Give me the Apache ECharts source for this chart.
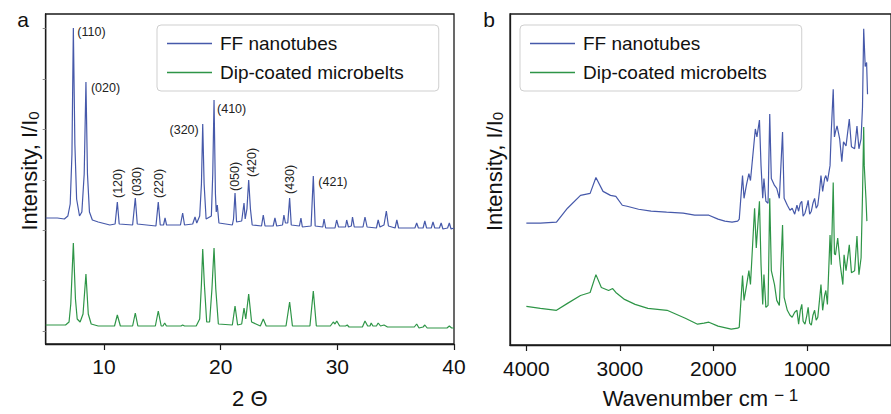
<!DOCTYPE html>
<html><head><meta charset="utf-8">
<script src="https://cdn.jsdelivr.net/npm/echarts@6/dist/echarts.min.js"></script>
<style>html,body{margin:0;padding:0;background:#fff}#c{width:891px;height:414px}</style>
</head><body><div id="c"></div>
<script>
const seriesNames = ['FF nanotubes', 'Dip-coated microbelts'];
const xrdTicks = [10, 20, 30, 40];
const ftirTicks = [1000, 2000, 3000, 4000];
const xrdYTicks = [13, 64, 114, 164, 215, 265, 316];

// XRD, FF nanotubes: [2theta, intensity]
const xrdNano = [[5.0,126],[6.0,126],[6.6,125],[6.9,128],[7.1,140],[7.25,190],[7.37,316],[7.5,200],[7.65,145],[7.9,128],[8.1,132],[8.3,170],[8.45,262],[8.58,170],[8.75,132],[9.0,124],[9.5,122],[10.5,119],[10.95,120],[11.14,142],[11.3,120],[12.45,119],[12.68,146],[12.85,120],[14.45,118],[14.65,142],[14.82,119],[15.1,119],[15.23,126],[15.36,119],[16.55,119],[16.74,131],[16.9,119],[17.6,120],[17.8,127],[17.95,121],[18.2,128],[18.35,160],[18.46,220],[18.58,160],[18.75,125],[19.2,128],[19.32,170],[19.43,244],[19.55,150],[19.62,132],[19.71,139],[19.85,121],[21.0,119],[21.1,125],[21.23,151],[21.36,122],[21.8,123],[22.0,141],[22.1,125],[22.25,135],[22.4,164],[22.55,135],[22.7,119],[23.5,118],[23.65,129],[23.8,118],[24.5,118],[24.65,126],[24.8,118],[25.3,119],[25.42,129],[25.55,121],[25.75,121],[25.91,146],[26.05,119],[26.75,118],[26.88,126],[27.0,117],[27.75,118],[27.94,168],[28.1,118],[28.75,117],[28.86,125],[29.0,116],[29.8,116],[29.94,124],[30.1,117],[30.7,117],[30.8,124],[30.95,117],[31.2,118],[31.3,127],[31.45,117],[32.2,117],[32.37,127],[32.55,117],[33.35,116],[33.5,124],[33.65,117],[34.0,119],[34.2,133],[34.38,118],[34.95,116],[35.1,124],[35.25,116],[36.65,116],[36.8,121],[36.95,116],[37.35,116],[37.5,123],[37.65,116],[38.05,116],[38.2,122],[38.35,116],[38.75,116],[38.9,121],[39.05,115],[39.45,116],[39.6,121],[39.75,115],[40,116]];

// XRD, dip-coated microbelts
const xrdBelts = [[5.0,19],[6.0,19],[6.7,19],[7.0,22],[7.15,40],[7.37,101],[7.55,45],[7.7,25],[7.95,22],[8.2,30],[8.45,70],[8.65,30],[8.9,20],[9.5,18],[10.9,18],[11.14,29],[11.4,18],[12.45,18],[12.68,31],[12.9,18],[14.4,18],[14.65,33],[14.9,18],[15.05,18],[15.2,21],[15.35,18],[16.6,18],[16.74,19],[16.9,18],[17.9,18],[18.2,25],[18.35,60],[18.46,95],[18.6,60],[18.8,22],[19.05,22],[19.25,55],[19.43,96],[19.58,55],[19.8,20],[21.0,19],[21.23,38],[21.45,19],[21.8,20],[22.0,36],[22.15,25],[22.4,50],[22.65,22],[23.4,18],[23.65,25],[23.9,18],[25.6,18],[25.91,42],[26.15,18],[27.65,18],[27.94,53],[28.2,18],[29.4,18],[29.65,22],[29.8,20],[29.95,23],[30.2,18],[30.7,18],[30.85,19],[31.0,17],[32.15,17],[32.37,23],[32.6,18],[32.8,18],[32.9,21],[33.05,18],[33.35,18],[33.5,21],[33.7,18],[34.0,19],[34.3,17],[36.6,17],[36.8,20],[37.0,16],[37.35,17],[37.5,19],[37.7,16],[39.4,16],[39.6,18],[39.8,16],[40,16]];

// FTIR, FF nanotubes: [wavenumber, intensity]
const ftirNano = [[4000,123],[3850,123],[3678,124],[3560,138],[3421,151],[3318,153],[3256,169],[3180,155],[3100,151],[3043,150],[2974,141],[2923,140],[2800,137],[2666,135],[2500,134],[2323,133],[2200,131],[2048,131],[1950,127],[1877,125],[1800,124],[1740,125],[1723,127],[1688,171],[1672,148],[1645,162],[1620,173],[1603,166],[1551,218],[1534,210],[1507,227],[1490,181],[1472,148],[1459,168],[1438,145],[1415,143],[1397,233],[1380,168],[1346,161],[1322,158],[1294,148],[1260,215],[1243,148],[1209,141],[1180,136],[1157,138],[1130,132],[1106,141],[1088,135],[1070,143],[1054,145],[1040,130],[1020,133],[1000,140],[986,146],[970,132],[952,135],[935,143],[917,148],[900,138],[883,141],[865,155],[849,171],[831,155],[810,168],[797,171],[780,165],[752,181],[739,215],[718,258],[705,210],[694,215],[677,221],[649,208],[626,185],[608,205],[581,201],[546,228],[523,200],[489,198],[464,221],[443,198],[420,208],[405,240],[392,319],[376,281],[361,285],[351,253]];

// FTIR, dip-coated microbelts
const ftirBelts = [[4000,39],[3850,37],[3678,35],[3560,42],[3421,50],[3318,53],[3256,71],[3198,58],[3120,55],[3077,57],[3043,53],[2950,46],[2837,41],[2700,37],[2495,35],[2300,27],[2169,21],[2100,22],[2048,23],[1950,19],[1809,16],[1740,17],[1723,18],[1688,70],[1672,45],[1645,60],[1620,75],[1603,61],[1559,138],[1541,98],[1507,145],[1490,81],[1472,41],[1459,71],[1438,38],[1415,40],[1397,148],[1380,75],[1346,61],[1322,45],[1294,40],[1260,121],[1243,48],[1209,35],[1180,30],[1157,28],[1130,33],[1106,35],[1088,21],[1070,35],[1054,41],[1040,24],[1020,21],[1000,30],[986,38],[970,22],[952,20],[935,30],[917,35],[900,25],[883,28],[865,45],[849,61],[831,35],[810,50],[797,55],[780,41],[752,111],[739,81],[718,164],[705,92],[694,91],[670,108],[643,81],[615,61],[602,91],[581,75],[546,101],[523,73],[489,75],[464,110],[443,71],[420,88],[405,150],[392,220],[386,181],[368,148],[358,125]];

// XRD peak indices
const peakNames = ['(110)','(020)','(120)','(030)','(220)','(320)','(410)','(050)','(420)','(430)','(421)'];
const peakTheta = [7.37, 8.45, 11.14, 12.68, 14.65, 18.46, 19.43, 21.23, 22.4, 25.91, 27.94];
const peakTop = [316, 262, 142, 146, 142, 220, 244, 151, 164, 146, 168];

// label layout (pixels, relative to peak top)
const peakLabelLayout = [
  {dx: 4, dy: 4, rot: 0, align: 'left'},
  {dx: 5, dy: 6, rot: 0, align: 'left'},
  {dx: 1, dy: -4, rot: 90},
  {dx: 1.5, dy: -2, rot: 90},
  {dx: 0.7, dy: -4, rot: 90},
  {dx: -4, dy: 6, rot: 0, align: 'right'},
  {dx: 3, dy: 9, rot: 0, align: 'left'},
  {dx: 0, dy: -2, rot: 90},
  {dx: 3, dy: -3, rot: 90},
  {dx: 0.3, dy: -4, rot: 90},
  {dx: 5, dy: 6, rot: 0, align: 'left'}
];

const BLUE = '#4659aa';
const GREEN = '#2e9547';
const FONT = '"Liberation Sans", Arial, sans-serif';
const AXIS_COLOR = '#1a1a1a';

const chart = echarts.init(document.getElementById('c'), null, {renderer: 'svg'});

function xAxisCommon(extra) {
  return Object.assign({
    type: 'value',
    nameLocation: 'middle',
    nameTextStyle: {fontSize: 22, color: '#111', fontFamily: FONT},
    axisLine: {show: true, onZero: false, lineStyle: {color: AXIS_COLOR, width: 1.3}},
    axisTick: {show: true, length: 6, lineStyle: {color: AXIS_COLOR, width: 1.2}},
    axisLabel: {fontSize: 21, color: '#111', fontFamily: FONT},
    splitLine: {show: false}
  }, extra);
}

function legendFor(left) {
  return {
    orient: 'vertical', left: left, top: 25,
    data: seriesNames,
    icon: 'rect', itemWidth: 45, itemHeight: 1.6, itemGap: 10,
    padding: [9, 35, 9, 10],
    borderColor: '#cfcfcf', borderWidth: 1, borderRadius: 4,
    backgroundColor: 'rgba(255,255,255,0.85)',
    textStyle: {fontSize: 19, color: '#111', fontFamily: FONT, padding: [0, 0, 0, 3]},
    selectedMode: false
  };
}

const yNameStyle = {fontSize: 22, color: '#111', fontFamily: FONT, padding: [0, 0, 0, 16],
  rich: {sub: {fontSize: 15, verticalAlign: 'bottom', lineHeight: 12, fontFamily: FONT, color: '#111'}}};

const option = {
  animation: false,
  textStyle: {fontFamily: FONT},
  grid: [
    {left: 45.7, right: 437, top: 14, bottom: 70, show: true, borderColor: AXIS_COLOR, borderWidth: 1.3, backgroundColor: 'transparent'},
    {left: 510, right: -15, top: 14, bottom: 66, show: true, borderColor: AXIS_COLOR, borderWidth: 1.3, backgroundColor: 'transparent'}
  ],
  legend: [legendFor(157), legendFor(520)],
  xAxis: [
    xAxisCommon({gridIndex: 0, min: 5, max: 40, name: '2 Θ', nameGap: 43,
      axisTick: {show: true, length: 6, customValues: xrdTicks, lineStyle: {color: AXIS_COLOR, width: 1.2}},
      axisLabel: {fontSize: 21, color: '#111', fontFamily: FONT, margin: 12, customValues: xrdTicks, formatter: v => String(v)}}),
    xAxisCommon({gridIndex: 1, min: 100, max: 4175, inverse: true, nameGap: 42,
      name: 'Wavenumber cm {sup|− 1}',
      nameTextStyle: {fontSize: 22, color: '#111', fontFamily: FONT,
        rich: {sup: {fontSize: 17, verticalAlign: 'top', lineHeight: 14, fontFamily: FONT, color: '#111'}}},
      axisTick: {show: true, length: 6, customValues: ftirTicks, lineStyle: {color: AXIS_COLOR, width: 1.2}},
      axisLabel: {fontSize: 21, color: '#111', fontFamily: FONT, margin: 13, customValues: ftirTicks, formatter: v => String(v)}})
  ],
  yAxis: [
    {gridIndex: 0, type: 'value', min: 0, max: 330,
      name: 'Intensity, I/I{sub|0}', nameLocation: 'middle', nameGap: 5,
      nameTextStyle: yNameStyle,
      axisLine: {show: true, lineStyle: {color: AXIS_COLOR, width: 1.3}},
      axisTick: {show: true, length: 3, customValues: xrdYTicks, lineStyle: {color: '#888', width: 1}},
      axisLabel: {show: false}, splitLine: {show: false}},
    {gridIndex: 1, type: 'value', min: 0, max: 334,
      name: 'Intensity, I/I{sub|0}', nameLocation: 'middle', nameGap: 5,
      nameTextStyle: yNameStyle,
      axisLine: {show: true, lineStyle: {color: AXIS_COLOR, width: 1.3}},
      axisTick: {show: false}, axisLabel: {show: false}, splitLine: {show: false}}
  ],
  series: [
    {name: seriesNames[0], type: 'line', xAxisIndex: 0, yAxisIndex: 0, data: xrdNano, showSymbol: false, symbol: 'none', color: BLUE, lineStyle: {width: 1.2, color: BLUE}},
    {name: seriesNames[1], type: 'line', xAxisIndex: 0, yAxisIndex: 0, data: xrdBelts, showSymbol: false, symbol: 'none', color: GREEN, lineStyle: {width: 1.2, color: GREEN}},
    {name: seriesNames[0], type: 'line', xAxisIndex: 1, yAxisIndex: 1, data: ftirNano, showSymbol: false, symbol: 'none', color: BLUE, lineStyle: {width: 1.2, color: BLUE}},
    {name: seriesNames[1], type: 'line', xAxisIndex: 1, yAxisIndex: 1, data: ftirBelts, showSymbol: false, symbol: 'none', color: GREEN, lineStyle: {width: 1.2, color: GREEN}}
  ]
};
chart.setOption(option);

// peak labels + panel letters
const graphics = [
  {type: 'text', x: 23, y: 19, style: {text: 'a', fontSize: 21, fontFamily: FONT, fill: '#111', align: 'center', verticalAlign: 'middle'}},
  {type: 'text', x: 489, y: 19, style: {text: 'b', fontSize: 21, fontFamily: FONT, fill: '#111', align: 'center', verticalAlign: 'middle'}}
];
peakNames.forEach((nm, i) => {
  const p = chart.convertToPixel({gridIndex: 0}, [peakTheta[i], peakTop[i]]);
  const L = peakLabelLayout[i];
  if (L.rot) {
    graphics.push({type: 'text', x: p[0] + L.dx, y: p[1] + L.dy, rotation: Math.PI / 2,
      style: {text: nm, fontSize: 12.5, fontFamily: FONT, fill: '#222', align: 'left', verticalAlign: 'middle'}});
  } else {
    graphics.push({type: 'text', x: p[0] + L.dx, y: p[1] + L.dy,
      style: {text: nm, fontSize: 12.5, fontFamily: FONT, fill: '#222', align: L.align, verticalAlign: 'middle'}});
  }
});
chart.setOption({graphic: graphics});
</script></body></html>
